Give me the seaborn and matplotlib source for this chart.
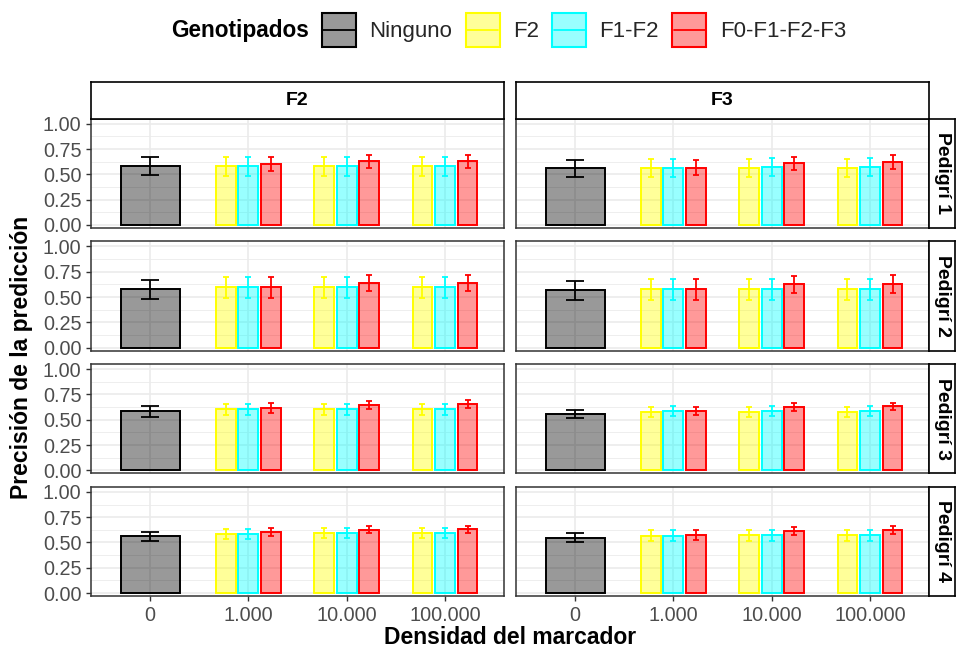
import matplotlib
matplotlib.use("Agg")
import numpy as np
import pandas as pd
import matplotlib.pyplot as plt
import seaborn as sns
from matplotlib.patches import Patch, Rectangle
from matplotlib.lines import Line2D
from matplotlib.legend_handler import HandlerBase
from matplotlib.ticker import FixedLocator

# ---------------- data ----------------
densidades = ["0", "1.000", "10.000", "100.000"]
generaciones = ["F2", "F3"]
pedigris = ["Pedigrí 1", "Pedigrí 2", "Pedigrí 3", "Pedigrí 4"]
grupos = ["Ninguno", "F2", "F1-F2", "F0-F1-F2-F3"]
colores = {"Ninguno": "#000000", "F2": "#FFFF00", "F1-F2": "#00FFFF", "F0-F1-F2-F3": "#FF0000"}

# panel order: (P1,F2), (P1,F3), (P2,F2), (P2,F3), (P3,F2), (P3,F3), (P4,F2), (P4,F3)
ninguno_media = [0.58, 0.56, 0.575, 0.565, 0.585, 0.56, 0.56, 0.545]
ninguno_error = [0.09, 0.085, 0.095, 0.095, 0.055, 0.04, 0.045, 0.045]

# columns: densidad 1.000, 10.000, 100.000
f2_media = [[0.58, 0.58, 0.58], [0.565, 0.565, 0.565], [0.595, 0.595, 0.595], [0.575, 0.575, 0.575],
            [0.605, 0.605, 0.605], [0.58, 0.58, 0.58], [0.585, 0.59, 0.59], [0.565, 0.57, 0.57]]
f2_error = [[0.095, 0.095, 0.095], [0.09, 0.09, 0.09], [0.1, 0.1, 0.1], [0.1, 0.1, 0.1],
            [0.055, 0.055, 0.055], [0.05, 0.05, 0.05], [0.05, 0.05, 0.05], [0.055, 0.055, 0.055]]
f1f2_media = [[0.58, 0.58, 0.58], [0.565, 0.57, 0.57], [0.595, 0.595, 0.595], [0.575, 0.575, 0.575],
              [0.605, 0.605, 0.605], [0.585, 0.585, 0.585], [0.585, 0.59, 0.59], [0.565, 0.57, 0.57]]
f1f2_error = [[0.095, 0.095, 0.095], [0.09, 0.09, 0.09], [0.1, 0.1, 0.1], [0.1, 0.1, 0.1],
              [0.055, 0.055, 0.055], [0.05, 0.05, 0.05], [0.05, 0.05, 0.05], [0.055, 0.055, 0.055]]
f0f3_media = [[0.60, 0.63, 0.63], [0.565, 0.61, 0.62], [0.595, 0.635, 0.635], [0.575, 0.625, 0.63],
              [0.62, 0.65, 0.655], [0.59, 0.63, 0.635], [0.60, 0.625, 0.63], [0.57, 0.615, 0.62]]
f0f3_error = [[0.07, 0.065, 0.065], [0.075, 0.065, 0.07], [0.1, 0.08, 0.08], [0.1, 0.085, 0.085],
              [0.05, 0.04, 0.04], [0.04, 0.04, 0.035], [0.04, 0.035, 0.035], [0.05, 0.04, 0.04]]

paneles = [(p, g) for p in pedigris for g in generaciones]
filas = []
for i, (p, g) in enumerate(paneles):
    filas.append(dict(Pedigri=p, Generacion=g, Densidad=densidades[0], Genotipados="Ninguno",
                      media=ninguno_media[i], error=ninguno_error[i]))
    for grp, med, err in [("F2", f2_media, f2_error), ("F1-F2", f1f2_media, f1f2_error),
                          ("F0-F1-F2-F3", f0f3_media, f0f3_error)]:
        for j, d in enumerate(densidades[1:]):
            filas.append(dict(Pedigri=p, Generacion=g, Densidad=d, Genotipados=grp,
                              media=med[i][j], error=err[i][j]))
df = pd.DataFrame(filas)

# ---------------- style ----------------
sns.set_theme(style="white")
plt.rcParams["font.family"] = ["Liberation Sans", "DejaVu Sans"]

W, H = 957, 651
fig = plt.figure(figsize=(W / 100, H / 100), dpi=100)

def fx(px):
    return px / W

def fy(py):
    return 1 - py / H

col_left = [91, 516]
panel_w = 413
row_top = [118.5, 241.2, 363.9, 486.6]
panel_h = 109.5
ancho_dodge = 0.69
otros = grupos[1:]
grid_col = "#EBEBEB"
borde = "#333333"
alpha = 0.4

for r, p in enumerate(pedigris):
    for c, g in enumerate(generaciones):
        ax = fig.add_axes([fx(col_left[c]), fy(row_top[r] + panel_h), panel_w / W, panel_h / H])
        sub = df[(df.Pedigri == p) & (df.Generacion == g)]
        sub_n = sub[sub.Genotipados == "Ninguno"]
        sub_o = sub[sub.Genotipados != "Ninguno"]
        sns.barplot(data=sub_n, x="Densidad", y="media", order=densidades, width=0.6,
                    errorbar=None, color=colores["Ninguno"], saturation=1, ax=ax, zorder=3)
        sns.barplot(data=sub_o, x="Densidad", y="media", hue="Genotipados", hue_order=otros,
                    order=densidades, width=ancho_dodge, gap=0.13, errorbar=None,
                    palette=colores, saturation=1, ax=ax, legend=False, zorder=3)
        for patch in ax.patches:
            fc = patch.get_facecolor()
            patch.set_facecolor((fc[0], fc[1], fc[2], alpha))
            patch.set_edgecolor((fc[0], fc[1], fc[2], 1.0))
            patch.set_linewidth(1.4)
        # error bars
        ax.errorbar(x=[densidades.index(d) for d in sub_n.Densidad], y=sub_n.media, yerr=sub_n.error,
                    fmt="none", ecolor=colores["Ninguno"], elinewidth=1.3, capsize=6.8,
                    capthick=1.3, zorder=4)
        for k, grp in enumerate(otros):
            s = sub_o[sub_o.Genotipados == grp]
            xs = [densidades.index(d) + (k - 1) * ancho_dodge / 3 for d in s.Densidad]
            ax.errorbar(x=xs, y=s.media, yerr=s.error, fmt="none", ecolor=colores[grp],
                        elinewidth=1.3, capsize=2.4, capthick=1.3, zorder=4)
        ax.set_xlim(-0.6, 3.6)
        ax.set_ylim(-0.03, 1.052)
        ax.set_xlabel("")
        ax.set_ylabel("")
        ax.set_axisbelow(True)
        ax.yaxis.set_major_locator(FixedLocator([0, 0.25, 0.5, 0.75, 1.0]))
        ax.yaxis.set_minor_locator(FixedLocator([0.125, 0.375, 0.625, 0.875]))
        ax.set_yticklabels(["0.00", "0.25", "0.50", "0.75", "1.00"])
        ax.set_xticks(range(len(densidades)))
        ax.set_xticklabels(densidades)
        ax.grid(True, which="major", axis="both", color=grid_col, linewidth=1.2, zorder=0)
        ax.grid(True, which="minor", axis="y", color=grid_col, linewidth=0.6, zorder=0)
        ax.tick_params(which="minor", length=0)
        ax.tick_params(axis="both", which="major", colors=borde, labelcolor="#4D4D4D",
                       labelsize=14.3, length=3.5, width=1.0, pad=3.5, direction="out")
        ax.tick_params(axis="y", left=(c == 0), labelleft=(c == 0))
        ax.tick_params(axis="x", bottom=(r == 3), labelbottom=(r == 3))
        for sp in ax.spines.values():
            sp.set_visible(True)
            sp.set_color(borde)
            sp.set_linewidth(1.1)

        # strips
        if r == 0:
            sx = fig.add_axes([fx(col_left[c]), fy(118.5), panel_w / W, 36.5 / H])
            sx.set_xticks([]); sx.set_yticks([])
            sx.set_facecolor("white")
            for sp in sx.spines.values():
                sp.set_visible(True); sp.set_color("black"); sp.set_linewidth(1.2)
            sx.text(0.5, 0.5, g, transform=sx.transAxes, ha="center", va="center",
                    fontsize=14, fontweight="bold", color="black")
        if c == 1:
            sy = fig.add_axes([fx(929), fy(row_top[r] + panel_h), 26 / W, panel_h / H])
            sy.set_xticks([]); sy.set_yticks([])
            sy.set_facecolor("white")
            for sp in sy.spines.values():
                sp.set_visible(True); sp.set_color("black"); sp.set_linewidth(1.2)
            sy.text(0.5, 0.5, p, transform=sy.transAxes, ha="center", va="center",
                    rotation=-90, fontsize=14, fontweight="bold", color="black")

# axis titles
fig.text(fx(22), fy(357), "Precisión de la predicción", rotation=90, ha="center", va="center",
         fontsize=16.5, fontweight="bold", color="black")
fig.text(fx(510), fy(638), "Densidad del marcador", ha="center", va="center",
         fontsize=16.5, fontweight="bold", color="black")


# legend: filled box with a horizontal line through it (ggplot errorbar + bar key)
class HandlerCaja(HandlerBase):
    def create_artists(self, legend, orig_handle, xdescent, ydescent, width, height,
                       fontsize, trans):
        h = width  # square key
        y0 = -ydescent + height / 2 - h / 2
        rect = Rectangle((-xdescent, y0), width, h,
                         facecolor=orig_handle.get_facecolor(),
                         edgecolor=orig_handle.get_edgecolor(), linewidth=1.5,
                         transform=trans)
        line = Line2D([-xdescent + 1, -xdescent + width - 1],
                      [y0 + h / 2, y0 + h / 2],
                      color=orig_handle.get_edgecolor(), linewidth=1.3, transform=trans)
        return [rect, line]


handles = []
for grp in grupos:
    col = matplotlib.colors.to_rgb(colores[grp])
    handles.append(Patch(facecolor=(*col, alpha), edgecolor=col, linewidth=1.4))
fig.text(fx(171), fy(30), "Genotipados", ha="left", va="center", fontsize=16.3,
         fontweight="bold", color="black")
fig.legend(handles, grupos, loc="center left", bbox_to_anchor=(fx(322), fy(30)), ncol=4,
           frameon=False, fontsize=16, handlelength=1.53, handleheight=1.53,
           handletextpad=0.6, columnspacing=0.6, borderpad=0, borderaxespad=0,
           handler_map={Patch: HandlerCaja()})

fig.savefig("out.png", dpi=100)
